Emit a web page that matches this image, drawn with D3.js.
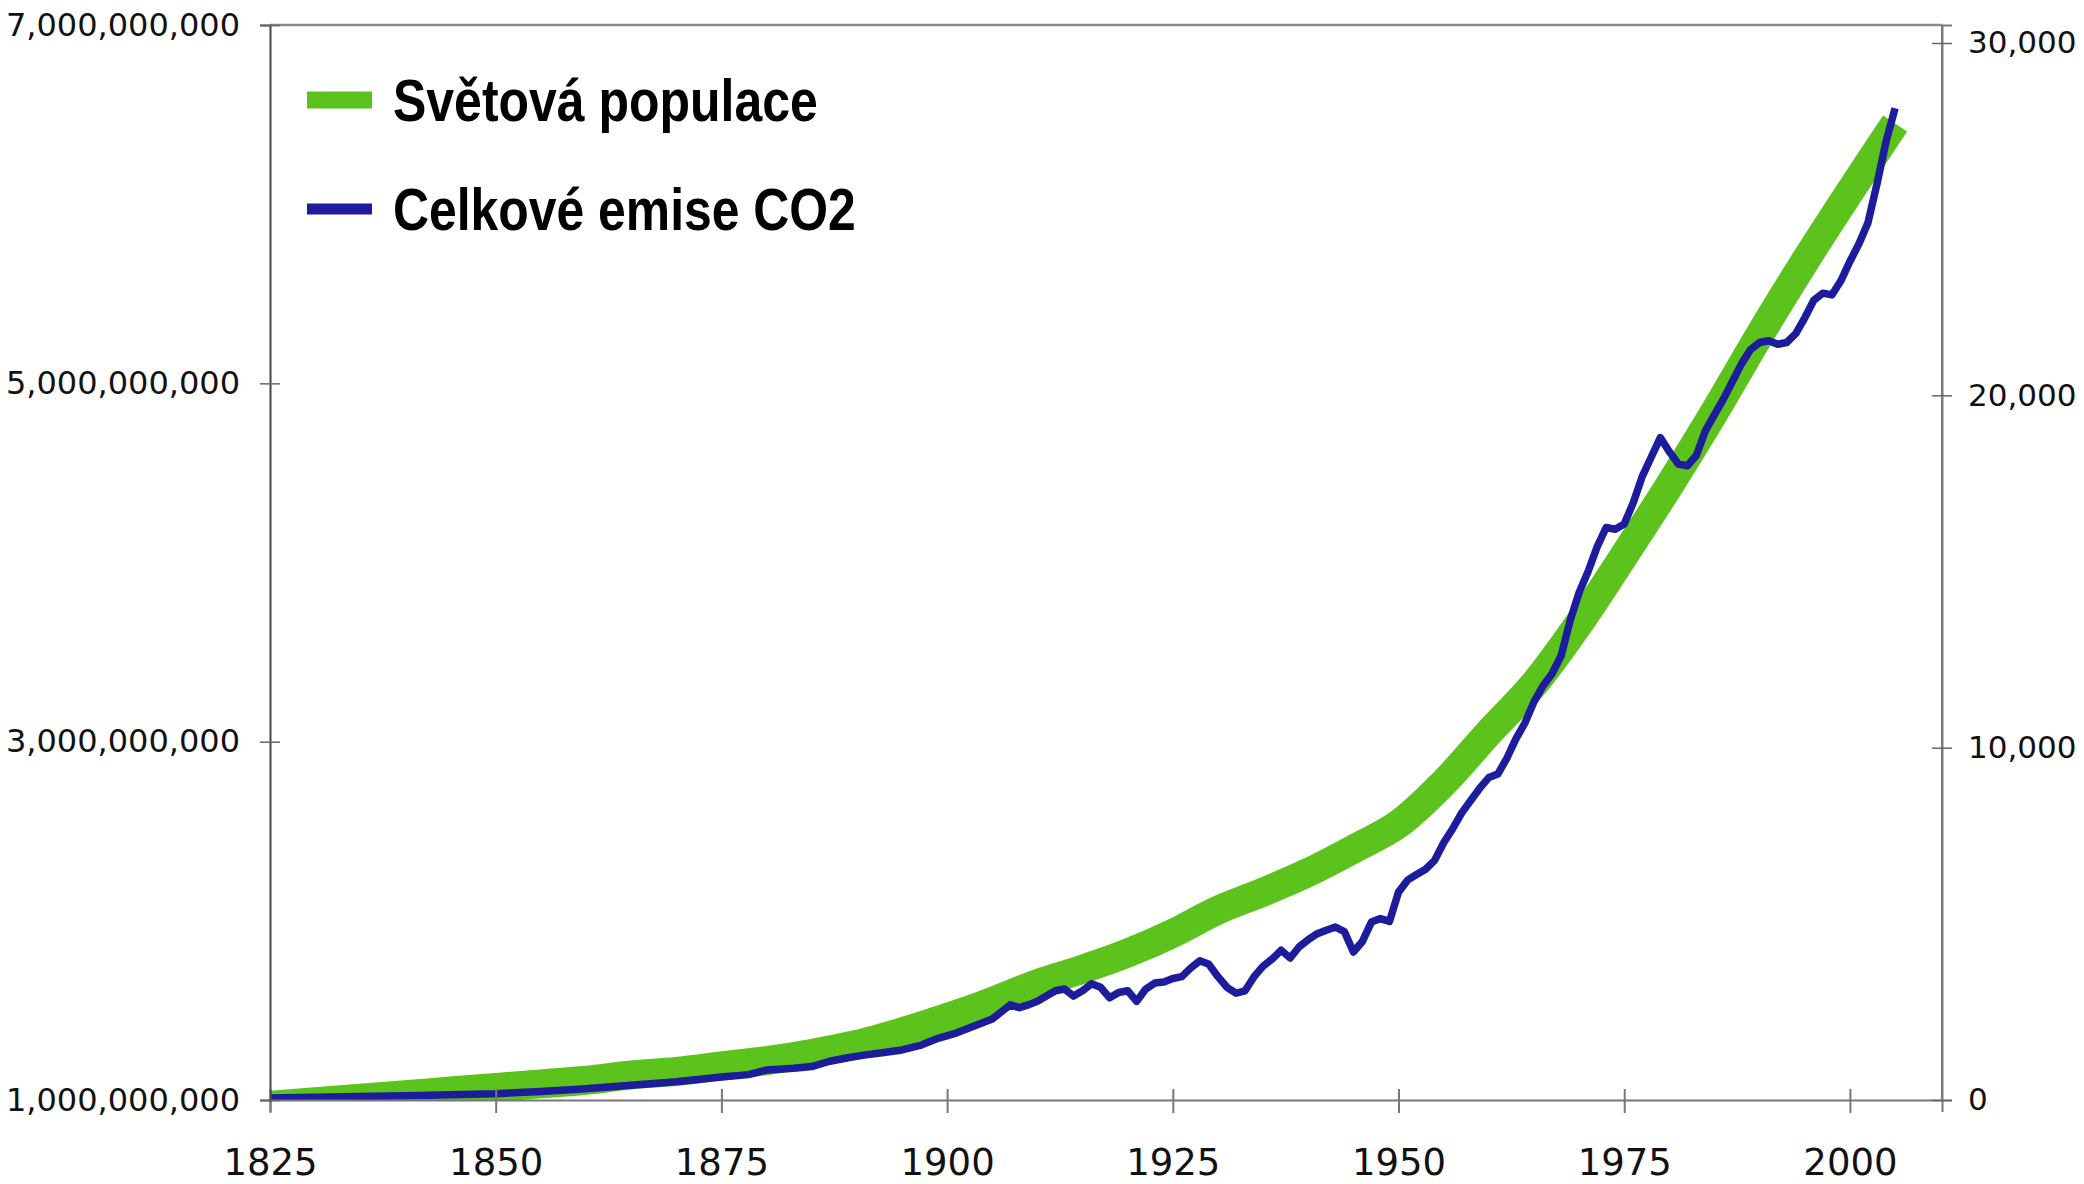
<!DOCTYPE html>
<html><head><meta charset="utf-8">
<script src="https://cdn.jsdelivr.net/npm/d3@7"></script>
<style>
html,body{margin:0;padding:0;background:#fff;}
svg{display:block;}
</style></head>
<body>
<svg id="chart" width="2084" height="1184"></svg>
<script>
// ---- Data ----
const popYears = [1825,1830,1835,1840,1845,1850,1855,1860,1865,1870,1875,1880,1885,1890,1895,1900,1905,1910,1915,1920,1925,1930,1935,1940,1945,1950,1955,1960,1965,1970,1975,1980,1985,1990,1995,2000,2005];
const popValues = [0.97e9,0.99e9,1.01e9,1.03e9,1.05e9,1.07e9,1.09e9,1.11e9,1.14e9,1.16e9,1.19e9,1.22e9,1.26e9,1.31e9,1.38e9,1.46e9,1.55e9,1.65e9,1.73e9,1.82e9,1.93e9,2.06e9,2.16e9,2.27e9,2.40e9,2.54e9,2.77e9,3.05e9,3.32e9,3.66e9,4.04e9,4.43e9,4.84e9,5.27e9,5.68e9,6.07e9,6.45e9];

const co2Years = [1825,1830,1835,1840,1845,1850,1855,1860,1865,1870,1875,1878,1880,1883,1885,1887,1889,1891,1893,1895,1897,1899,1901,1903,1905,1906,1907,1908,1909,1910,1911,1912,1913,1914,1915,1916,1917,1918,1919,1920,1921,1922,1923,1924,1925,1926,1927,1928,1929,1930,1931,1932,1933,1934,1935,1936,1937,1938,1939,1940,1941,1942,1943,1944,1945,1946,1947,1948,1949,1950,1951,1952,1953,1954,1955,1956,1957,1958,1959,1960,1961,1962,1963,1964,1965,1966,1967,1968,1969,1970,1971,1972,1973,1974,1975,1976,1977,1978,1979,1980,1981,1982,1983,1984,1985,1986,1987,1988,1989,1990,1991,1992,1993,1994,1995,1996,1997,1998,1999,2000,2001,2002,2003,2004,2005];
const co2Values = [60,80,100,120,150,180,240,320,420,520,650,720,850,900,950,1100,1200,1280,1350,1420,1550,1750,1900,2100,2300,2500,2700,2620,2700,2800,2950,3100,3150,2950,3100,3300,3200,2900,3050,3100,2800,3150,3320,3350,3450,3500,3750,3950,3850,3500,3200,3030,3100,3500,3800,4000,4250,4030,4350,4550,4720,4820,4910,4780,4200,4500,5050,5150,5070,5900,6240,6400,6550,6800,7300,7700,8150,8500,8850,9150,9250,9700,10250,10700,11300,11750,12100,12600,13600,14400,15000,15700,16250,16200,16350,16950,17700,18250,18800,18400,18050,18000,18300,19000,19450,19900,20400,20900,21300,21500,21550,21450,21500,21750,22200,22700,22900,22850,23250,23800,24300,24900,26000,27200,28150];

const xTicks = [1825,1850,1875,1900,1925,1950,1975,2000];
const leftTicks = [1e9,3e9,5e9,7e9];
const rightTicks = [0,10000,20000,30000];
const seriesNames = ["Světová populace","Celkové emise CO2"];

// ---- Layout ----
const L = 270, R = 1942, T = 25, B = 1100;
const GREEN = "#5cc21c", BLUE = "#1c1c9c";

const svg = d3.select("#chart");
const x = d3.scaleLinear().domain([1825, 2010.2]).range([L, R]);
const yL = d3.scaleLinear().domain([1e9, 7e9]).range([B, T]);
const yR = d3.scaleLinear().domain([0, 30511]).range([B, T]);

svg.append("defs").append("clipPath").attr("id","plotclip")
  .append("rect").attr("x",L).attr("y",T).attr("width",R-L).attr("height",B-T);

// frame
svg.append("line").attr("x1",L).attr("x2",R).attr("y1",T).attr("y2",T).attr("stroke","#8a8a8a").attr("stroke-width",2.5);
svg.append("line").attr("x1",R).attr("x2",R).attr("y1",T).attr("y2",B).attr("stroke","#7a7a7a").attr("stroke-width",2);

const popData = popYears.map((y,i)=>({x:y,v:popValues[i]}));
const co2Data = co2Years.map((y,i)=>({x:y,v:co2Values[i]}));

const g = svg.append("g").attr("clip-path","url(#plotclip)");
g.append("path").datum(popData)
  .attr("d", d3.line().x(d=>x(d.x)).y(d=>yL(d.v)).curve(d3.curveCatmullRom.alpha(0.5)))
  .attr("fill","none").attr("stroke",GREEN).attr("stroke-width",29).attr("stroke-linecap","butt").attr("stroke-linejoin","round");
g.append("path").datum(co2Data)
  .attr("d", d3.line().x(d=>x(d.x)).y(d=>yR(d.v)))
  .attr("fill","none").attr("stroke",BLUE).attr("stroke-width",7.5).attr("stroke-linejoin","round");

// axes
const fontAxis = "'DejaVu Sans', Verdana, sans-serif";
const xAxis = svg.append("g").attr("transform",`translate(0,${B})`)
  .call(d3.axisBottom(x).tickValues(xTicks).tickFormat(d3.format("d")).tickSizeOuter(0).tickSize(12));
xAxis.select(".domain").attr("stroke","#777").attr("stroke-width",2);
xAxis.selectAll(".tick line").attr("y1",-11).attr("y2",13).attr("stroke","#777").attr("stroke-width",2);
xAxis.selectAll("text").attr("font-family",fontAxis).attr("font-size",37).attr("fill","#111").attr("dy",0).attr("y",75);

const lAxis = svg.append("g").attr("transform",`translate(${L},0)`)
  .call(d3.axisLeft(yL).tickValues(leftTicks).tickFormat(d3.format(",")).tickSizeOuter(0).tickSize(10).tickPadding(20));
lAxis.select(".domain").attr("stroke","#444").attr("stroke-width",2);
lAxis.selectAll(".tick line").attr("x1",10).attr("x2",-10).attr("stroke","#666").attr("stroke-width",1.5);
lAxis.selectAll("text").attr("font-family",fontAxis).attr("font-size",32).attr("fill","#111");

const rAxis = svg.append("g").attr("transform",`translate(${R},0)`)
  .call(d3.axisRight(yR).tickValues(rightTicks).tickFormat(d3.format(",")).tickSizeOuter(0).tickSize(10).tickPadding(16));
rAxis.select(".domain").attr("stroke","#7a7a7a").attr("stroke-width",2);
rAxis.selectAll(".tick line").attr("x1",-10).attr("x2",10).attr("stroke","#666").attr("stroke-width",1.5);
rAxis.selectAll("text").attr("font-family",fontAxis).attr("font-size",31).attr("fill","#111");

// legend
const legend = svg.append("g");
const legendItems = [
  {name: seriesNames[0], color: GREEN, w: 17, y: 100, tw: 425},
  {name: seriesNames[1], color: BLUE, w: 11, y: 209, tw: 463}
];
legendItems.forEach(it=>{
  legend.append("line").attr("x1",307).attr("x2",372).attr("y1",it.y).attr("y2",it.y)
    .attr("stroke",it.color).attr("stroke-width",it.w);
  const t = legend.append("text").attr("x",0).attr("y",0)
    .attr("font-family","'Liberation Sans Narrow','Arial Narrow','Liberation Sans',Arial,sans-serif")
    .attr("font-weight","bold").attr("font-size",59).attr("fill","#000").text(it.name);
  const w = t.node().getComputedTextLength();
  const sx = it.tw / w;
  t.attr("transform",`translate(393,${it.y+21}) scale(${sx},1)`);
});
</script>
</body></html>
